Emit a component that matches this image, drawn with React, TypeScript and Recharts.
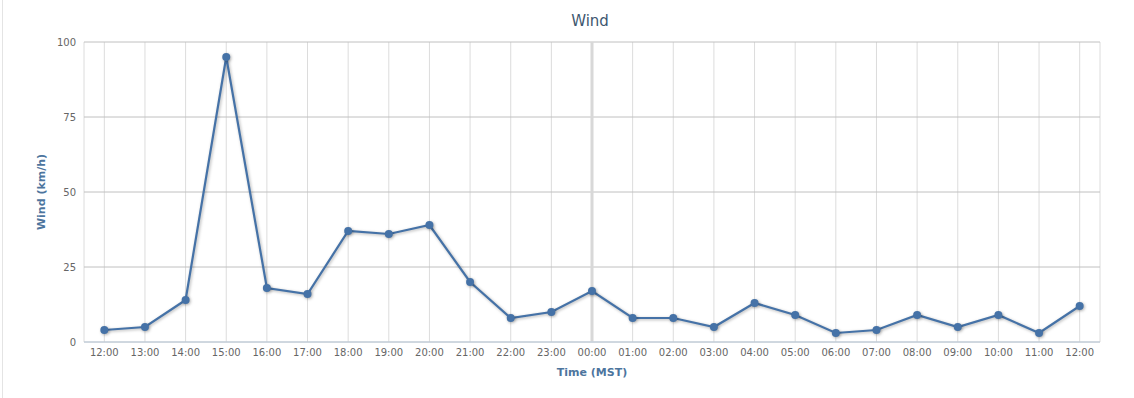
import {
  CartesianGrid,
  Line,
  LineChart,
  ReferenceLine,
  XAxis,
  YAxis,
} from "recharts";

const hours = [
  "12:00", "13:00", "14:00", "15:00", "16:00", "17:00", "18:00", "19:00", "20:00",
  "21:00", "22:00", "23:00", "00:00", "01:00", "02:00", "03:00", "04:00", "05:00",
  "06:00", "07:00", "08:00", "09:00", "10:00", "11:00", "12:00",
];
const wind = [4, 5, 14, 95, 18, 16, 37, 36, 39, 20, 8, 10, 17, 8, 8, 5, 13, 9, 3, 4, 9, 5, 9, 3, 12];
const yTicks = [0, 25, 50, 75, 100];
const midnightIndex = 12;

const data = wind.map((v, i) => ({ idx: i, wind: v }));
const xTicks = hours.map((_, i) => i);

const font = "'DejaVu Sans', sans-serif";

export default function App() {
  return (
    <div style={{ position: "absolute", left: 0, top: 0, width: 1134, height: 398, background: "#fff", fontFamily: font }}>
      <div style={{ position: "absolute", left: 2, top: 0, width: 1, height: 398, background: "#e4e4e4" }} />
      <LineChart width={1134} height={398} data={data} margin={{ top: 42, right: 34, bottom: 0, left: 0 }}>
        <text x={590} y={26} textAnchor="middle" fontSize={15} fill="#3e576f" fontFamily={font}>
          Wind
        </text>
        <CartesianGrid horizontal={false} stroke="#dcdcdc" />
        <CartesianGrid vertical={false} stroke="#c0c0c0" />
        <XAxis
          dataKey="idx"
          type="number"
          domain={[-0.5, 24.5]}
          ticks={xTicks}
          interval={0}
          tickFormatter={(i: number) => hours[i]}
          height={56}
          tickLine={false}
          tickSize={0}
          tickMargin={7}
          stroke="#c0d0e0"
          tick={{ fontSize: 10, fill: "#666", fontFamily: font }}
          label={{
            content: () => (
              <text
                x={592}
                y={376}
                textAnchor="middle"
                fontSize={11}
                fontWeight="bold"
                fill="#4d759e"
                fontFamily={font}
              >
                Time (MST)
              </text>
            ),
          }}
        />
        <YAxis
          domain={[0, 100]}
          ticks={yTicks}
          width={84}
          axisLine={false}
          tickLine={false}
          tickSize={0}
          tickMargin={8}
          tick={{ fontSize: 10, fill: "#666", fontFamily: font }}
          label={{
            content: () => (
              <text
                x={45}
                y={192}
                transform="rotate(-90 45 192)"
                textAnchor="middle"
                fontSize={11}
                fontWeight="bold"
                fill="#4d759e"
                fontFamily={font}
              >
                Wind (km/h)
              </text>
            ),
          }}
        />
        <ReferenceLine x={midnightIndex} stroke="#d8d8d8" strokeWidth={3} />
        <Line
          type="linear"
          dataKey="wind"
          stroke="#4572a7"
          strokeWidth={2.2}
          dot={{ r: 4, fill: "#4572a7", stroke: "#4572a7", strokeWidth: 0 }}
          activeDot={false}
          isAnimationActive={false}
          style={{ filter: "drop-shadow(1px 1px 1.5px rgba(0,0,0,0.3))" }}
        />
      </LineChart>
    </div>
  );
}
